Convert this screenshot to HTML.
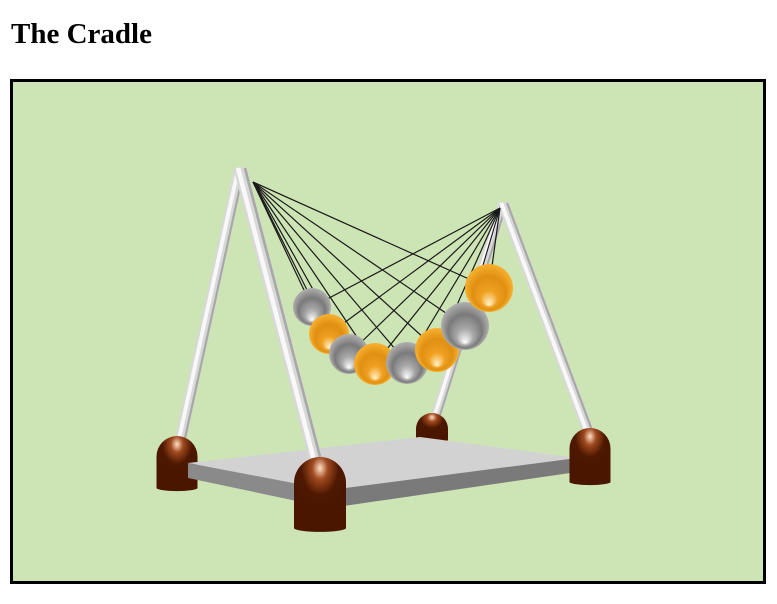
<!DOCTYPE html>
<html><head><meta charset="utf-8"><style>
html,body{margin:0;padding:0;background:#fff;width:777px;height:604px;overflow:hidden}
h1{position:absolute;left:11px;top:18px;margin:0;font:bold 29px "Liberation Serif",serif;color:#000}
#scene{position:absolute;left:10px;top:79px;width:750px;height:499px;border:3px solid #000;background:#cde4b4}
</style></head><body>
<h1>The Cradle</h1>
<div id="scene">
<svg id="svg" width="750" height="499" viewBox="13 82 750 499" xmlns="http://www.w3.org/2000/svg">
<defs>
<radialGradient id="silver" cx="0.5" cy="0.5" r="0.5" fx="0.5" fy="0.85"><stop offset="0" stop-color="#ffffff"/><stop offset="0.35" stop-color="#a8a8a8"/><stop offset="0.7" stop-color="#7a7a7a"/><stop offset="1" stop-color="#b0b0b0"/></radialGradient>
<radialGradient id="gold" cx="0.5" cy="0.5" r="0.5" fx="0.5" fy="0.85"><stop offset="0" stop-color="#fff6d0"/><stop offset="0.35" stop-color="#f0a020"/><stop offset="0.7" stop-color="#e09010"/><stop offset="1" stop-color="#f8b030"/></radialGradient>
<radialGradient id="cap" cx="0.5" cy="0.15" r="0.6"><stop offset="0" stop-color="#ffe0c8"/><stop offset="0.25" stop-color="#a04a20"/><stop offset="0.6" stop-color="#4e1800"/><stop offset="1" stop-color="#4a1600"/></radialGradient>
</defs>
<g id="frame-back"></g>
<polygon points="188,463 420,437 577,458 330,490" fill="#d2d2d2"/>
<polygon points="188,463 330,490 330,508 188,478" fill="#8a8a8a"/>
<polygon points="330,490 577,458 577,472 330,508" fill="#7a7a7a"/>
<g id="frame-front"></g>
<g id="strings"></g>
<g id="balls"></g>
</svg>
</div>
<script>
const ballX=[312,329,349,375,407,437,465,489];
const ballY=[307,334,354,364,363,350,326,288];
const ballR=[19,20,20,21,21,22,24,24];
const ballMat=["silver","gold","silver","gold","silver","gold","silver","gold"];
const NS="http://www.w3.org/2000/svg";
function mk(tag,attrs,parent){const e=document.createElementNS(NS,tag);for(const k in attrs)e.setAttribute(k,attrs[k]);parent.appendChild(e);return e;}
const pivL=[253,182],pivR=[500,208];
function post(x1,y1,x2,y2,w,parent,name){
  const l=mk('line',{x1,y1,x2,y2,stroke:'#d8d8d8','stroke-width':w},parent);
  
  
  mk('line',{x1:x1-w*0.15,y1:y1,x2:x2-w*0.15,y2:y2,stroke:'#f8f8f8','stroke-width':w*0.35},parent);
  mk('line',{x1:x1+w*0.38,y1:y1,x2:x2+w*0.38,y2:y2,stroke:'#a8a8a8','stroke-width':w*0.2},parent);
}
function cap(cx,top,bottom,w,parent,name){
  const r=w/2;
  const p=mk('path',{d:`M${cx-r},${bottom} L${cx-r},${top+r} A${r},${r} 0 0 1 ${cx+r},${top+r} L${cx+r},${bottom} A${r},${r*0.15} 0 0 1 ${cx-r},${bottom} Z`,fill:'url(#cap)'},parent);
  
  
}
const fb=document.getElementById('frame-back'),ff=document.getElementById('frame-front');
post(240,168,180,442,11,fb,'post-left-back');
post(503,203,434,422,10,fb,'post-right-back');
cap(432,413,440,32,fb,'foot-back');
cap(177,436,488,41,fb,'foot-left');
post(503,203,590,436,11,ff,'post-right-front');
post(240,168,318,468,13,ff,'post-left-front');
cap(320,457,528,52,ff,'foot-front');
cap(590,428,482,41,ff,'foot-right');
const sg=document.getElementById('strings'),bg=document.getElementById('balls');
for(let i=0;i<ballX.length;i++){
  for(const pv of [pivL,pivR]){
    const s=mk('line',{x1:pv[0],y1:pv[1],x2:ballX[i],y2:ballY[i],stroke:'#1a1a1a','stroke-width':1.2},sg);
    
    
  }
  const c=mk('circle',{cx:ballX[i],cy:ballY[i],r:ballR[i],fill:ballMat[i]==='gold'?'url(#gold)':'url(#silver)'},bg);
  
  
}
</script>
</body></html>
